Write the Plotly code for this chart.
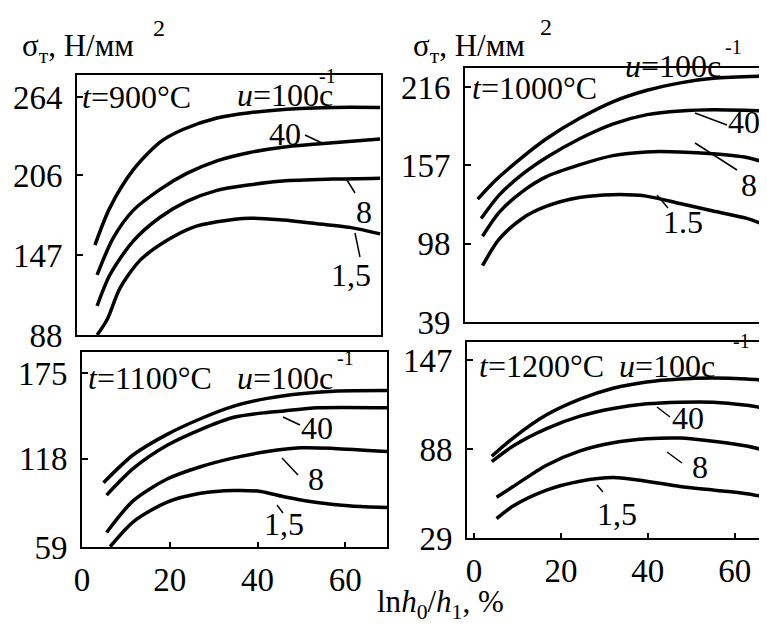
import plotly.graph_objects as go

W, H = 767, 630
OFF = 8  # page body margin compensation (px)
FONT = "Liberation Serif, Times New Roman, Tinos, serif"

# ---------------- data ----------------
# t = 900 °C
x900_100 = [4.1, 7.5, 12.8, 19.0, 24.2, 32.0, 39.5, 51.0, 58.5, 69.3]
y900_100 = [154.5, 182, 209.9, 230.7, 240, 248.5, 252.4, 255.5, 256.3, 256.3]
x900_40 = [4.6, 8.2, 12.8, 19.0, 25.1, 32.0, 39.5, 47.0, 54.9, 69.3]
y900_40 = [132.4, 159.3, 180, 195.7, 207.5, 216.8, 223, 226.9, 229.2, 233]
x900_8 = [4.6, 7.5, 12.8, 19.0, 25.1, 32.0, 39.5, 47.0, 58.5, 69.3]
y900_8 = [109.5, 132.4, 157.3, 175.1, 186.8, 195, 199.1, 201.9, 203.3, 204]
x900_15 = [4.6, 6.9, 9.8, 14.4, 20.6, 26.5, 32.0, 39.5, 47.1, 54.9, 62.4, 69.3]
y900_15 = [88, 99.5, 122.5, 143.2, 158, 167.6, 171.7, 174.4, 173, 170.3, 167.6, 162.8]

# t = 1000 °C
x1000_100 = [1.3, 5.5, 10.9, 17.0, 24.6, 32.3, 40.0, 47.6, 55.2, 67.4]
y1000_100 = [131.5, 146.1, 161.5, 177, 192.4, 205, 213.5, 219.1, 222.5, 224.2]
x1000_40 = [2.1, 6.3, 11.6, 17.0, 24.6, 32.3, 40.0, 47.6, 55.2, 67.4]
y1000_40 = [117, 134.9, 150.5, 162.9, 177, 188.2, 195.2, 198, 198.9, 198]
x1000_8 = [2.4, 6.2, 11.5, 16.9, 24.5, 32.2, 39.8, 47.5, 55.1, 62.8, 67.4]
y1000_8 = [103.6, 121.6, 137.2, 148.3, 157.3, 164.3, 167.1, 167.1, 165.7, 162.9, 158.7]
x1000_15 = [2.4, 6.2, 11.5, 16.9, 24.5, 32.2, 39.8, 47.5, 55.1, 62.8, 67.4]
y1000_15 = [81.4, 101.4, 117, 126, 132.7, 134.9, 133.8, 128.2, 122.6, 117, 111.5]

# t = 1100 °C
x1100_100 = [4.9, 11.7, 19.4, 27.0, 34.6, 42.2, 49.8, 57.4, 69.5]
y1100_100 = [101.9, 120.5, 134.1, 144.5, 152.9, 158.1, 161.2, 162.9, 163.3]
x1100_40 = [5.6, 11.7, 19.4, 27.0, 34.6, 42.2, 46.0, 53.6, 69.5]
y1100_40 = [93.6, 111.4, 126.8, 137.3, 145.5, 148.7, 149.7, 151.8, 151.8]
x1100_8 = [5.6, 11.7, 19.4, 27.0, 34.6, 42.2, 49.8, 57.4, 69.5]
y1100_8 = [68.7, 89.9, 104.3, 112.5, 118.4, 122.6, 125.1, 124.7, 122.6]
x1100_15 = [6.4, 11.7, 19.4, 27.0, 34.6, 40.7, 46.0, 53.6, 61.3, 69.5]
y1100_15 = [59.2, 75.8, 88.9, 94.8, 96.7, 96, 92.5, 88.6, 86.3, 85.3]

# t = 1200 °C
x1200_100 = [4.1, 9.0, 16.7, 24.4, 32.0, 39.7, 47.4, 55.0, 62.7, 67.4]
y1200_100 = [83.2, 95.3, 110.7, 121.1, 128.3, 132.5, 134.5, 135.1, 134.5, 133.5]
x1200_40 = [4.1, 9.0, 16.7, 24.4, 32.0, 39.7, 47.4, 55.0, 62.7, 67.4]
y1200_40 = [79.7, 90, 101.5, 109.8, 114.9, 118, 119.1, 119.1, 117, 114.9]
x1200_8 = [5.2, 9.0, 16.7, 24.4, 32.0, 39.7, 47.4, 55.0, 62.7, 67.4]
y1200_8 = [56, 63.1, 77.3, 86.8, 92.2, 94.8, 95.3, 93.2, 90, 86.8]
x1200_15 = [5.2, 9.0, 16.7, 24.4, 32.0, 39.7, 47.4, 55.0, 62.7, 67.4]
y1200_15 = [41.8, 50.2, 60.8, 66.7, 69.1, 66.7, 63.1, 60.8, 58.4, 56]

yticks_900 = [88, 147, 206, 264]
yticks_1000 = [39, 98, 157, 216]
yticks_1100 = [59, 118, 175]
yticks_1200 = [29, 88, 147]
xticks = [0, 20, 40, 60]

temps = ["900", "1000", "1100", "1200"]
rate_labels = ["40", "8", "1,5"]
rate_labels_1000 = ["40", "8", "1.5"]

# ---------------- helpers ----------------
def px(x):
    return (x - OFF) / W

def py(y):
    return 1 - (y - OFF) / H

fig = go.Figure()

panels = [
    ([(x900_100, y900_100), (x900_40, y900_40), (x900_8, y900_8), (x900_15, y900_15)], "x", "y"),
    ([(x1000_100, y1000_100), (x1000_40, y1000_40), (x1000_8, y1000_8), (x1000_15, y1000_15)], "x2", "y2"),
    ([(x1100_100, y1100_100), (x1100_40, y1100_40), (x1100_8, y1100_8), (x1100_15, y1100_15)], "x3", "y3"),
    ([(x1200_100, y1200_100), (x1200_40, y1200_40), (x1200_8, y1200_8), (x1200_15, y1200_15)], "x4", "y4"),
]
for curves, xa, ya in panels:
    for xs, ys in curves:
        fig.add_trace(go.Scatter(x=xs, y=ys, xaxis=xa, yaxis=ya, mode="lines",
                                 line=dict(color="black", width=3.5, shape="spline", smoothing=0.8),
                                 showlegend=False, hoverinfo="skip"))

tickfont = dict(family=FONT, size=33, color="black")

def xax(dom, rng, labels):
    return dict(domain=[px(dom[0]), px(dom[1])], range=rng, showline=True, linecolor="black",
                linewidth=2, mirror=True, showgrid=False, zeroline=False, automargin=False,
                tickvals=xticks if labels else [], ticks="inside" if labels else "",
                ticklen=5, tickcolor="black", tickwidth=1.5,
                showticklabels=labels, tickfont=tickfont, ticklabelstandoff=2)

def yax(dom, rng, vals, mirror):
    return dict(domain=[py(dom[1]), py(dom[0])], range=rng, showline=True, linecolor="black",
                linewidth=2, mirror=mirror, showgrid=False, zeroline=False, automargin=False,
                tickvals=vals, ticks="inside", ticklen=6, tickcolor="black", tickwidth=1.5,
                tickfont=tickfont, ticklabelstandoff=6)

fig.update_layout(
    width=W, height=H, margin=dict(l=0, r=0, t=0, b=0, pad=0, autoexpand=False),
    paper_bgcolor="white", plot_bgcolor="white", showlegend=False,
    font=dict(family=FONT, color="black"),
    xaxis=dict(xax((77, 381), [0, 69.5], False), anchor="y"),
    yaxis=dict(yax((75, 335), [88, 280.3], yticks_900, True), anchor="x"),
    xaxis2=dict(xax((465, 767), [-1.6, 67.4], False), anchor="y2"),
    yaxis2=dict(yax((68, 322), [39, 230.3], yticks_1000, False), anchor="x2"),
    xaxis3=dict(xax((82, 387), [0, 69.5], True), anchor="y3"),
    yaxis3=dict(yax((352, 547), [59, 189], yticks_1100, True), anchor="x3"),
    xaxis4=dict(xax((467, 767), [-1.6, 67.4], True), anchor="y4"),
    yaxis4=dict(yax((342, 538), [29, 159], yticks_1200, False), anchor="x4"),
)

def text(t, x, y, size=32, xanchor="center"):
    fig.add_annotation(text=t, x=px(x), y=py(y), xref="paper", yref="paper",
                       showarrow=False, xanchor=xanchor, yanchor="middle",
                       font=dict(family=FONT, size=size, color="black"))

def leader(x0, y0, x1, y1):
    fig.add_shape(type="line", xref="paper", yref="paper",
                  x0=px(x0), y0=py(y0), x1=px(x1), y1=py(y1),
                  line=dict(color="black", width=1.5))

# axis titles
text("σ<sub>т</sub>, Н/мм", 20, 48, size=31, xanchor="left")
text("2", 159, 28, size=24)
text("σ<sub>т</sub>, Н/мм", 411, 48, size=31, xanchor="left")
text("2", 546, 27, size=24)
text("ln<i>h</i><sub>0</sub>/<i>h</i><sub>1</sub>, %", 440, 604, size=31)

# panel labels
tpos = [(80, 97), (470, 88), (86, 378), (477, 366)]
upos = [(235, 95), (623, 66), (235, 378), (617, 366)]
supos = [(327, 76), (733, 47), (345, 358), (741, 341)]
for i, tmp in enumerate(temps):
    text("<i>t</i>=" + tmp + "°C", tpos[i][0], tpos[i][1], xanchor="left")
    text("<i>u</i>=100с", upos[i][0], upos[i][1], xanchor="left")
    text("-1", supos[i][0], supos[i][1], size=20)

# curve labels with leader lines
lab_pos = [
    [(285, 134), (364, 212), (351, 275)],
    [(744, 122), (749, 185), (683, 222)],
    [(317, 428), (316, 479), (284, 524)],
    [(688, 418), (700, 467), (617, 514)],
]
leaders = [
    [(305, 135, 322, 143), (347, 180, 355, 193), (355, 233, 360, 257)],
    [(695, 113, 727, 125), (695, 143, 737, 170), (657, 195, 668, 208)],
    [(283, 417, 300, 425), (282, 458, 298, 475), (277, 505, 283, 513)],
    [(657, 407, 670, 417), (667, 452, 682, 463), (597, 485, 603, 492)],
]
for i in range(4):
    labs = rate_labels_1000 if i == 1 else rate_labels
    for j, lab in enumerate(labs):
        text(lab, lab_pos[i][j][0], lab_pos[i][j][1])
        leader(*leaders[i][j])

fig.write_html("out.html")
